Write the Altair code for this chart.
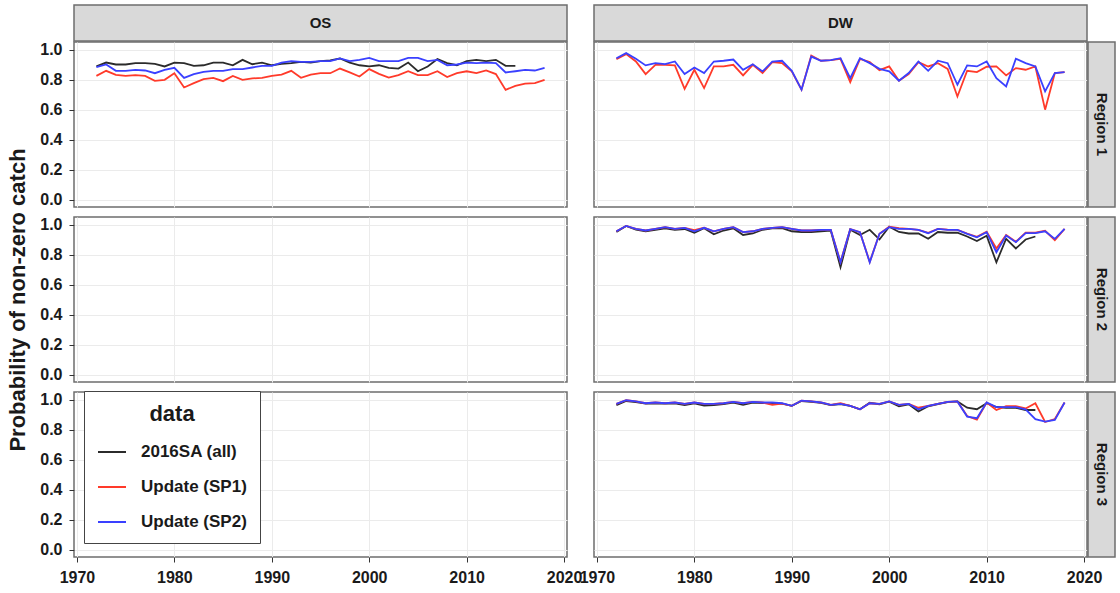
import altair as alt
import pandas as pd

FONT = "Liberation Sans"

SERIES = ["2016SA (all)", "Update (SP1)", "Update (SP2)"]
COLORS = ["#2b2b2b", "#ff3a2a", "#3a40ff"]
GEARS = ["OS", "DW"]
REGIONS = ["Region 1", "Region 2", "Region 3"]

YEARS = list(range(1972, 2019))      # 1972-2018 (updates)
YEARS_SA = list(range(1972, 2016))   # 1972-2015 (2016SA)

# ---- OS, Region 1 ----
os_r1_sa = [0.887, 0.913, 0.900, 0.900, 0.909, 0.909, 0.904, 0.887, 0.913, 0.909,
            0.891, 0.895, 0.913, 0.913, 0.895, 0.931, 0.902, 0.913, 0.895, 0.904,
            0.909, 0.918, 0.913, 0.922, 0.927, 0.940, 0.913, 0.895, 0.887, 0.895,
            0.878, 0.873, 0.913, 0.855, 0.887, 0.936, 0.909, 0.895, 0.922, 0.931,
            0.922, 0.931, 0.891, 0.891]
os_r1_sp1 = [0.824, 0.858, 0.831, 0.824, 0.829, 0.824, 0.791, 0.798, 0.842, 0.747,
             0.776, 0.802, 0.811, 0.789, 0.824, 0.798, 0.807, 0.811, 0.824, 0.833,
             0.858, 0.811, 0.833, 0.842, 0.842, 0.873, 0.847, 0.820, 0.869, 0.838,
             0.813, 0.829, 0.855, 0.829, 0.829, 0.855, 0.816, 0.842, 0.855, 0.842,
             0.860, 0.836, 0.731, 0.758, 0.773, 0.776, 0.798]
os_r1_sp2 = [0.882, 0.900, 0.858, 0.858, 0.864, 0.860, 0.842, 0.864, 0.878, 0.811,
             0.836, 0.851, 0.858, 0.858, 0.869, 0.869, 0.880, 0.891, 0.891, 0.913,
             0.922, 0.918, 0.918, 0.922, 0.922, 0.940, 0.922, 0.931, 0.944, 0.922,
             0.922, 0.922, 0.944, 0.944, 0.922, 0.931, 0.895, 0.900, 0.913, 0.909,
             0.913, 0.909, 0.847, 0.855, 0.864, 0.860, 0.878]

# ---- DW, Region 1 ----
dw_r1_sp1 = [0.936, 0.969, 0.920, 0.836, 0.898, 0.898, 0.894, 0.738, 0.865, 0.743,
             0.887, 0.887, 0.898, 0.827, 0.898, 0.843, 0.916, 0.909, 0.854, 0.732,
             0.960, 0.925, 0.929, 0.938, 0.783, 0.938, 0.916, 0.862, 0.887, 0.792,
             0.836, 0.916, 0.887, 0.909, 0.871, 0.687, 0.858, 0.849, 0.885, 0.887,
             0.827, 0.876, 0.865, 0.887, 0.599, 0.843, 0.849]
dw_r1_sp2 = [0.942, 0.976, 0.938, 0.894, 0.909, 0.902, 0.920, 0.836, 0.880, 0.843,
             0.920, 0.925, 0.933, 0.865, 0.902, 0.854, 0.920, 0.925, 0.858, 0.732,
             0.953, 0.925, 0.929, 0.942, 0.809, 0.942, 0.909, 0.871, 0.854, 0.792,
             0.843, 0.920, 0.858, 0.925, 0.909, 0.765, 0.894, 0.887, 0.920, 0.809,
             0.754, 0.938, 0.909, 0.887, 0.721, 0.843, 0.849]

# ---- DW, Region 2 ----
dw_r2_sa = [0.950, 0.990, 0.965, 0.955, 0.965, 0.975, 0.965, 0.970, 0.945, 0.975,
            0.935, 0.960, 0.975, 0.930, 0.940, 0.965, 0.975, 0.975, 0.955, 0.950,
            0.950, 0.955, 0.960, 0.715, 0.965, 0.930, 0.965, 0.900, 0.985, 0.950,
            0.940, 0.940, 0.905, 0.950, 0.945, 0.945, 0.920, 0.890, 0.925, 0.748,
            0.905, 0.840, 0.900, 0.920]
dw_r2_sp1 = [0.955, 0.990, 0.971, 0.960, 0.971, 0.982, 0.971, 0.978, 0.962, 0.978,
             0.955, 0.971, 0.982, 0.949, 0.955, 0.971, 0.978, 0.982, 0.971, 0.960,
             0.960, 0.964, 0.964, 0.750, 0.969, 0.949, 0.750, 0.938, 0.985, 0.975,
             0.971, 0.964, 0.945, 0.971, 0.966, 0.964, 0.940, 0.918, 0.952, 0.840,
             0.930, 0.885, 0.945, 0.945, 0.958, 0.895, 0.971]
dw_r2_sp2 = [0.955, 0.990, 0.971, 0.960, 0.971, 0.982, 0.971, 0.978, 0.955, 0.978,
             0.955, 0.971, 0.982, 0.949, 0.955, 0.971, 0.978, 0.982, 0.971, 0.960,
             0.960, 0.964, 0.964, 0.748, 0.969, 0.949, 0.748, 0.938, 0.982, 0.971,
             0.971, 0.964, 0.942, 0.971, 0.964, 0.964, 0.938, 0.915, 0.949, 0.815,
             0.926, 0.882, 0.942, 0.942, 0.955, 0.904, 0.971]

# ---- DW, Region 3 ----
dw_r3_sa = [0.962, 0.990, 0.982, 0.972, 0.975, 0.972, 0.975, 0.962, 0.975, 0.960,
            0.962, 0.970, 0.980, 0.965, 0.980, 0.976, 0.978, 0.972, 0.958, 0.990,
            0.985, 0.978, 0.962, 0.970, 0.958, 0.935, 0.978, 0.968, 0.985, 0.955,
            0.968, 0.920, 0.955, 0.970, 0.982, 0.987, 0.945, 0.935, 0.975, 0.950,
            0.945, 0.945, 0.930, 0.930]
dw_r3_sp1 = [0.971, 0.995, 0.987, 0.975, 0.980, 0.975, 0.980, 0.971, 0.980, 0.971,
             0.971, 0.975, 0.984, 0.975, 0.984, 0.980, 0.965, 0.972, 0.958, 0.993,
             0.987, 0.980, 0.964, 0.975, 0.958, 0.935, 0.975, 0.971, 0.987, 0.964,
             0.971, 0.945, 0.958, 0.971, 0.984, 0.987, 0.890, 0.865, 0.980, 0.930,
             0.955, 0.955, 0.940, 0.975, 0.850, 0.870, 0.980]
dw_r3_sp2 = [0.971, 0.995, 0.987, 0.975, 0.980, 0.975, 0.980, 0.971, 0.980, 0.971,
             0.971, 0.975, 0.984, 0.975, 0.984, 0.980, 0.980, 0.975, 0.958, 0.993,
             0.987, 0.980, 0.964, 0.971, 0.958, 0.935, 0.975, 0.971, 0.987, 0.964,
             0.971, 0.935, 0.958, 0.971, 0.984, 0.987, 0.886, 0.875, 0.980, 0.949,
             0.949, 0.949, 0.935, 0.869, 0.853, 0.864, 0.980]

rows = []
def add(gear, region, series, yrs, vals):
    for y, v in zip(yrs, vals):
        rows.append({"gear": gear, "region": region, "series": series, "year": y, "value": v})

add("OS", "Region 1", SERIES[0], YEARS_SA, os_r1_sa)
add("OS", "Region 1", SERIES[1], YEARS, os_r1_sp1)
add("OS", "Region 1", SERIES[2], YEARS, os_r1_sp2)
add("DW", "Region 1", SERIES[1], YEARS, dw_r1_sp1)
add("DW", "Region 1", SERIES[2], YEARS, dw_r1_sp2)
add("DW", "Region 2", SERIES[0], YEARS_SA, dw_r2_sa)
add("DW", "Region 2", SERIES[1], YEARS, dw_r2_sp1)
add("DW", "Region 2", SERIES[2], YEARS, dw_r2_sp2)
add("DW", "Region 3", SERIES[0], YEARS_SA, dw_r3_sa)
add("DW", "Region 3", SERIES[1], YEARS, dw_r3_sp1)
add("DW", "Region 3", SERIES[2], YEARS, dw_r3_sp2)
df = pd.DataFrame(rows, columns=["gear", "region", "series", "year", "value"])

X_TICKS = [1970, 1980, 1990, 2000, 2010, 2020]
Y_TICKS = [0.0, 0.2, 0.4, 0.6, 0.8, 1.0]
X_DOM = [1969.7, 2020.3]
Y_DOM = [-0.05, 1.05]

PW, PH, SH, SW = 493, 165, 36, 27
BORDER = "#6e6e6e"
STRIP_FILL = "#d9d9d9"
TXT = "#1a1a1a"

legend = alt.Legend(
    orient="none", legendX=10, legendY=349, title="data",
    titleFontSize=22, titleFont=FONT, titleFontWeight="bold", titleColor=TXT,
    titleAnchor="middle", titlePadding=11,
    labelFontSize=17, labelFont=FONT, labelFontWeight="bold", labelColor=TXT, labelOffset=14,
    symbolType="stroke", symbolSize=784, symbolStrokeWidth=2,
    rowPadding=12, padding=13, strokeColor="#444444", fillColor="white",
)

def top_strip(label):
    d = pd.DataFrame({"t": [label]})
    box = alt.Chart(d).mark_rect(fill=STRIP_FILL, stroke=BORDER, strokeWidth=1.5).encode(
        x=alt.value(0), x2=alt.value(PW), y=alt.value(-SH - 1), y2=alt.value(-1))
    txt = alt.Chart(d).mark_text(fontSize=15, font=FONT, fontWeight="bold", color=TXT).encode(
        text="t:N", x=alt.value(PW / 2), y=alt.value(-SH / 2 - 1))
    return [box, txt]

def side_strip(label):
    d = pd.DataFrame({"t": [label]})
    box = alt.Chart(d).mark_rect(fill=STRIP_FILL, stroke=BORDER, strokeWidth=1.5).encode(
        x=alt.value(PW + 1), x2=alt.value(PW + 1 + SW), y=alt.value(0), y2=alt.value(PH))
    txt = alt.Chart(d).mark_text(fontSize=15, font=FONT, fontWeight="bold", color=TXT,
                                 angle=90).encode(
        text="t:N", x=alt.value(PW + 1 + SW / 2), y=alt.value(PH / 2))
    return [box, txt]

def panel(gi, ri):
    gear, region = GEARS[gi], REGIONS[ri]
    left, bottom = gi == 0, ri == 2
    ytitle = "Probability of non-zero catch" if (gi == 0 and ri == 1) else None
    sub = df[(df.gear == gear) & (df.region == region)]
    xaxis = alt.Axis(values=X_TICKS, format="d", grid=True, labels=bottom, ticks=bottom,
                     domain=False, title=None, labelFlush=False, labelOverlap=False,
                     labelBound=False)
    yaxis = alt.Axis(values=Y_TICKS, format=".1f", grid=True, labels=left, ticks=left,
                     domain=False, title=ytitle, labelFlush=False, labelOverlap=False)
    lines = alt.Chart(sub).mark_line(strokeWidth=1.8, clip=True).encode(
        x=alt.X("year:Q", scale=alt.Scale(domain=X_DOM, nice=False, zero=False), axis=xaxis),
        y=alt.Y("value:Q", scale=alt.Scale(domain=Y_DOM, nice=False, zero=False), axis=yaxis),
        color=alt.Color("series:N", scale=alt.Scale(domain=SERIES, range=COLORS), legend=legend),
    )
    layers = [lines]
    if ri == 0:
        layers += top_strip(gear)
    if gi == 1:
        layers += side_strip(region)
    return alt.layer(*layers).properties(width=PW, height=PH)

panels = [panel(gi, ri) for ri in range(3) for gi in range(2)]

chart = alt.concat(
    *panels, columns=2, spacing={"row": 10, "column": 27}, bounds="flush",
).properties(
    padding={"left": 6, "top": 3, "right": 3, "bottom": 3},
    background="white",
).configure_view(
    stroke=BORDER, strokeWidth=1.5
).configure_axis(
    labelFont=FONT, labelFontSize=16, labelFontWeight="bold", labelColor=TXT, labelPadding=7,
    tickColor="#333333", tickSize=5, tickWidth=1,
    gridColor="#ebebeb", gridWidth=1,
    titleFont=FONT, titleFontSize=22, titleFontWeight="bold", titleColor=TXT,
    titlePadding=10,
)

chart.save("out.html", embed_options={"renderer": "svg", "actions": False})
